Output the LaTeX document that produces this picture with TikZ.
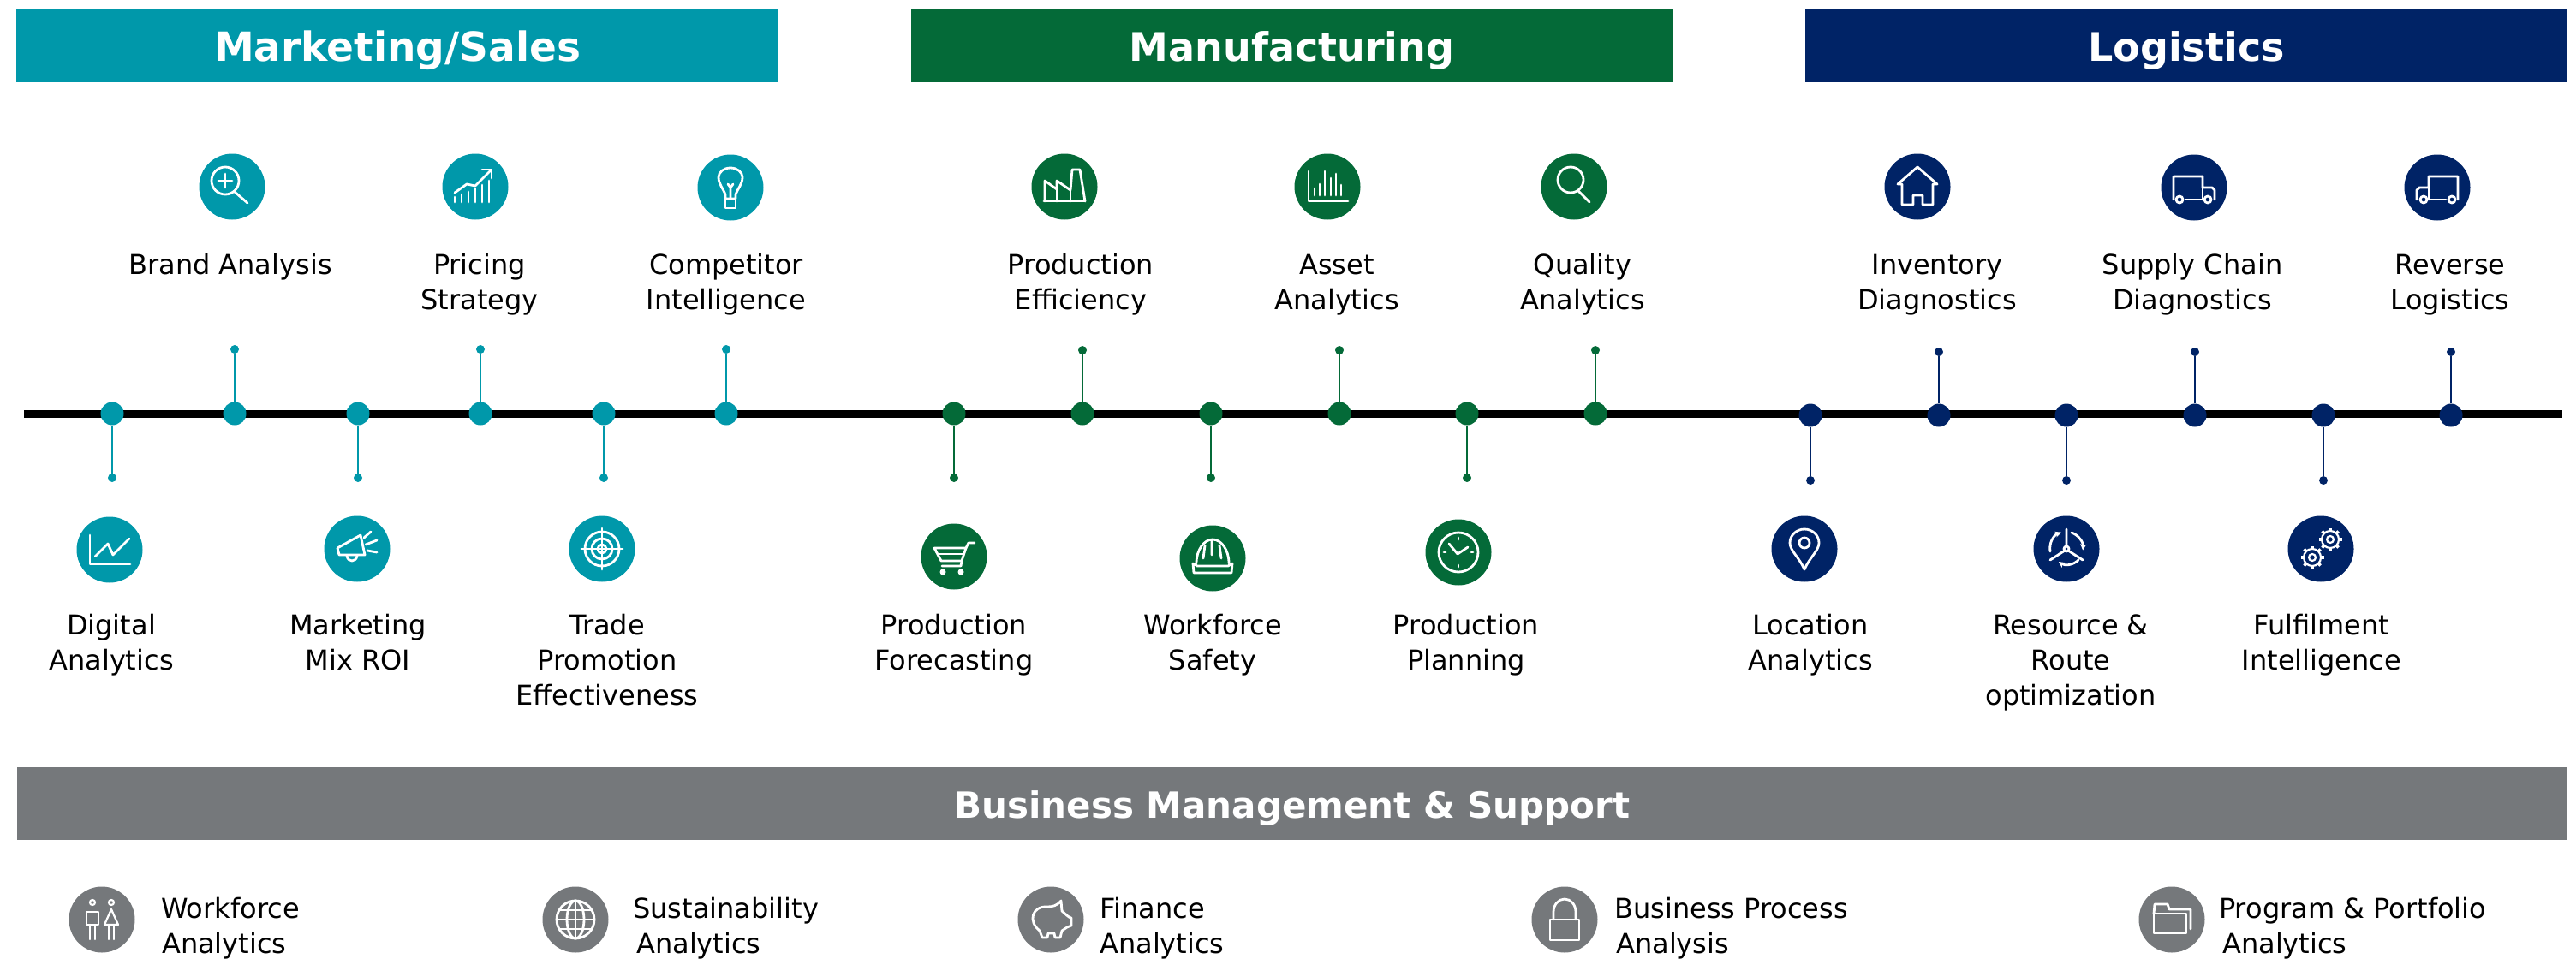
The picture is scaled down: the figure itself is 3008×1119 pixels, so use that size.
\documentclass[tikz,border=0pt]{standalone}
\usepackage{fontspec}
\setmainfont{DejaVu Sans}
\usetikzlibrary{arrows.meta,shapes.geometric,calc}
\definecolor{cteal}{HTML}{0098AA}
\definecolor{cgreen}{HTML}{046A38}
\definecolor{cnavy}{HTML}{002366}
\definecolor{cgrey}{HTML}{75787B}
\newcommand{\labelfont}{\fontsize{32}{41}\selectfont}
\newcommand{\headfont}{\fontsize{46}{50}\bfseries\selectfont}
\newcommand{\headtext}[2]{\raisebox{-#1}[0pt][0pt]{#2}}
\tikzset{
  x=1pt,y=-1pt,
  band/.style={fill=#1,draw=none,minimum height=85pt,inner sep=0,text=white,font=\headfont},
  hub/.style={circle,fill=#1,minimum size=27pt,inner sep=0},
  tip/.style={circle,fill=#1,minimum size=10pt,inner sep=0},
  stem/.style={draw=#1,line width=2.6pt},
  badge/.style={circle,fill=#1,minimum size=77pt,inner sep=0},
  glyph/.style={draw=white,line width=2.8pt,line cap=round,line join=round},
  lab/.style={font=\labelfont,align=center,anchor=base,inner sep=0,text=black},
  sidelab/.style={font=\labelfont,align=left,anchor=base west,inner sep=0,text=black},
}
\newcommand{\gear}[2]{%
  \draw[glyph,line width=2.2pt] (#1,#2) circle (10);
  \draw[glyph,line width=2.2pt] (#1,#2) circle (4);
  \foreach \a in {0,45,...,315}{\draw[glyph,line width=3.5pt,line cap=butt] ($(#1,#2)+(\a:10)$) -- ($(#1,#2)+(\a:13.5)$);}
}
\begin{document}
\begin{tikzpicture}
\useasboundingbox (0,0) rectangle (3008,1119);
% header bands
\node[band=cteal,minimum width=890pt] (hmkt) at (464,53.5) {\headtext{18pt}{\fontsize{47}{50}\bfseries\selectfont Marketing/Sales}};
\node[band=cgreen,minimum width=889pt] (hman) at (1508.5,53.5) {\headtext{18pt}{Manufacturing}};
\node[band=cnavy,minimum width=890pt] (hlog) at (2553,53.5) {\headtext{18pt}{Logistics}};
\node[band=cgrey,minimum width=2978pt] (hbus) at (1509,938.5) {\headtext{17pt}{\fontsize{42}{50}\bfseries\selectfont Business Management \& Support}};
% timeline
\coordinate (tlL) at (28,483);
\coordinate (tlR) at (2992,483);
\draw[line width=9pt,black] (tlL) -- (tlR);
% hubs, tips and stems
\foreach \n/\x/\yh/\yt/\c in {
 a1/131/483/558/cteal,a2/274/483/408/cteal,a3/418/483/558/cteal,a4/561/483/408/cteal,a5/705/483/558/cteal,a6/848/483/408/cteal,
 b1/1114/483/558/cgreen,b2/1264/483/409/cgreen,b3/1414/483/558/cgreen,b4/1564/483/409/cgreen,b5/1713/483/558/cgreen,b6/1863/483/409/cgreen,
 c1/2114/485/561/cnavy,c2/2264/485/411/cnavy,c3/2413/485/561/cnavy,c4/2563/485/411/cnavy,c5/2713/485/561/cnavy,c6/2862/485/411/cnavy}{
  \node[tip=\c] (tip\n) at (\x,\yt) {};
  \node[hub=\c] (hub\n) at (\x,\yh) {};
  \draw[stem=\c] (hub\n) -- (tip\n);
}
% badges
\foreach \n/\x/\y/\c in {
 brand/271/218/cteal,pricing/555/218/cteal,compet/853/219/cteal,digital/128/642/cteal,mix/417/641/cteal,trade/703/641/cteal,
 effic/1243/218/cgreen,asset/1550/218/cgreen,quality/1838/218/cgreen,forecast/1114/650/cgreen,safety/1416/652/cgreen,plan/1703/645/cgreen,
 invent/2239/218/cnavy,supply/2562/219/cnavy,reverse/2846/219/cnavy,locat/2107/641/cnavy,route/2413/641/cnavy,fulfil/2710/641/cnavy,
 wforce/119/1074/cgrey,sustain/672/1074/cgrey,finance/1227/1074/cgrey,process/1827/1074/cgrey,program/2536/1074/cgrey}{
  \node[badge=\c] (\n) at (\x,\y) {};
}
% labels top
\node[lab] (lbrand) at (269,320) {Brand Analysis};
\node[lab] (lpricing) at (560,361) {Pricing\\Strategy};
\node[lab] (lcompet) at (848,361) {Competitor\\Intelligence};
\node[lab] (leffic) at (1262,361) {Production\\Efficiency};
\node[lab] (lasset) at (1561,361) {Asset\\Analytics};
\node[lab] (lquality) at (1848,361) {Quality\\Analytics};
\node[lab] (linvent) at (2262,361) {Inventory\\Diagnostics};
\node[lab] (lsupply) at (2560,361) {Supply Chain\\Diagnostics};
\node[lab] (lreverse) at (2861,361) {Reverse\\Logistics};
% labels bottom
\node[lab] (ldigital) at (130,782) {Digital\\Analytics};
\node[lab] (lmix) at (418,782) {Marketing\\Mix ROI};
\node[lab] (ltrade) at (709,823) {Trade\\Promotion\\Effectiveness};
\node[lab] (lforecast) at (1114,782) {Production\\Forecasting};
\node[lab] (lsafety) at (1416,782) {Workforce\\Safety};
\node[lab] (lplan) at (1712,782) {Production\\Planning};
\node[lab] (llocat) at (2114,782) {Location\\Analytics};
\node[lab] (lroute) at (2418,823) {Resource \&\\Route\\optimization};
\node[lab] (lfulfil) at (2711,782) {Fulfilment\\Intelligence};
% labels support row
\node[sidelab] (lwforce) at (188,1113) {Workforce\\\hspace*{1pt}Analytics};
\node[sidelab] (lsustain) at (739,1113) {Sustainability\\\hspace*{4pt}Analytics};
\node[sidelab] (lfinance) at (1284,1113) {Finance\\Analytics};
\node[sidelab] (lprocess) at (1885,1113) {Business Process\\\hspace*{2pt}Analysis};
\node[sidelab] (lprogram) at (2591,1113) {Program \& Portfolio\\\hspace*{4pt}Analytics};
% ---------- glyphs
\begin{scope}[shift={(brand.center)}]
 \draw[glyph] (-8,-7) circle (16);
 \draw[glyph] (-8,-15) -- (-8,1) (-16,-7) -- (0,-7);
 \draw[glyph] (3,6) -- (18,19);
\end{scope}
\begin{scope}[shift={(pricing.center)}]
 \draw[glyph] (-24,18) -- (-24,12) (-16,18) -- (-16,9) (-8,18) -- (-8,6) (0,18) -- (0,2) (8,18) -- (8,-2) (16,18) -- (16,-7);
 \draw[glyph] (-24,7) -- (-10,-3) -- (0,-1) -- (19,-20);
 \draw[glyph] (8,-20) -- (19,-20) -- (19,-10);
\end{scope}
\begin{scope}[shift={(compet.center)}]
 \draw[glyph] (-6,13) -- (-6,8) .. controls (-8,2) and (-14,-4) .. (-14,-12) arc[start angle=180,end angle=360,x radius=14,y radius=11] .. controls (14,-4) and (8,2) .. (6,8) -- (6,13) -- cycle;
 \draw[glyph] (0,13) -- (0,0) -- (-3,-4) (0,0) -- (3,-4);
 \draw[glyph] (-6,13) -- (-6,24) -- (6,24) -- (6,13);
\end{scope}
\begin{scope}[shift={(digital.center)}]
 \draw[glyph] (-23,-17) -- (-23,17) -- (24,17);
 \draw[glyph] (-17,8) -- (-2,-7) -- (4,6) -- (23,-13);
\end{scope}
\begin{scope}[shift={(mix.center)}]
 \draw[glyph] (-23,-1) -- (4,-16) -- (9,7) -- (-21,7) -- cycle;
 \draw[glyph] (8,-13) -- (16,-20) (10,-5) -- (23,-10) (12,2) -- (23,4);
 \draw[glyph] (-12,8) .. controls (-11,16) and (-1,16) .. (0,8);
\end{scope}
\begin{scope}[shift={(trade.center)}]
 \draw[glyph] (0,0) circle (20) (0,0) circle (12) (0,0) circle (5);
 \draw[glyph] (-24,0) -- (24,0) (0,-24) -- (0,24);
\end{scope}
\begin{scope}[shift={(effic.center)}]
 \draw[glyph] (-24,17) -- (24,17);
 \draw[glyph] (-23,17) -- (-23,-7) -- (-9,3) -- (-9,-7) -- (7,4) -- (9,-20) -- (18,-20) -- (24,17);
 \draw[glyph] (-9,3) -- (-9,17) (7,4) -- (7,17);
\end{scope}
\begin{scope}[shift={(asset.center)}]
 \draw[glyph] (-22,-18) -- (-22,17) -- (24,17);
 \draw[glyph] (-15,10) -- (-15,2) (-9,10) -- (-9,-3) (-3,10) -- (-3,-18) (4,10) -- (4,-10) (10,10) -- (10,-15) (16,10) -- (16,-2);
\end{scope}
\begin{scope}[shift={(quality.center)}]
 \draw[glyph] (-4,-8) circle (15);
 \draw[glyph] (5,5) -- (18,18);
\end{scope}
\begin{scope}[shift={(forecast.center)}]
 \draw[glyph] (-23,-10) -- (14,-10) -- (9,5) -- (-15,5) -- cycle;
 \draw[glyph] (14,-10) -- (17,-16) -- (24,-16);
 \draw[glyph] (-18,-3) -- (10,-3);
 \draw[glyph] (9,5) -- (8,11) -- (-14,11);
 \fill[white] (-13,18) circle (3.5) (8,18) circle (3.5);
\end{scope}
\begin{scope}[shift={(safety.center)}]
 \draw[glyph] (-19,6) .. controls (-19,-10) and (-10,-22) .. (0,-22) .. controls (10,-22) and (19,-10) .. (19,6);
 \draw[glyph] (-23,6) -- (-18,9) -- (18,9) -- (23,6) -- (22,17) -- (-22,17) -- cycle;
 \draw[glyph] (-11,0) -- (-9,-15) (10,0) -- (8,-15) (-1,-4) -- (-1,-21);
\end{scope}
\begin{scope}[shift={(plan.center)}]
 \draw[glyph] (0,0) circle (23);
 \draw[glyph] (-11,-10) -- (-1,2) -- (11,-6);
 \draw[glyph] (0,-17) -- (0,-15) (0,17) -- (0,15) (-17,0) -- (-15,0) (17,0) -- (15,0);
\end{scope}
\begin{scope}[shift={(invent.center)}]
 \draw[glyph] (0,-23) -- (23,-3) -- (18,-3) -- (18,21) -- (6,21) -- (6,10) -- (-5,10) -- (-5,21) -- (-18,21) -- (-18,-3) -- (-23,-3) -- cycle;
\end{scope}
\begin{scope}[shift={(supply.center)}]
 \draw[glyph] (-24,14) -- (-24,-13) -- (10,-13) -- (10,0) -- (21,0) -- (24,3) -- (24,14);
 \draw[glyph] (-10,14) -- (9,14);
 \draw[glyph] (10,-13) -- (10,14);
 \draw[glyph] (-17,14) circle (4) (16,14) circle (4);
\end{scope}
\begin{scope}[shift={(reverse.center)}]
 \draw[glyph] (24,14) -- (24,-13) -- (-10,-13) -- (-10,0) -- (-21,0) -- (-24,3) -- (-24,14);
 \draw[glyph] (10,14) -- (-9,14);
 \draw[glyph] (-10,-13) -- (-10,14);
 \draw[glyph] (17,14) circle (4) (-16,14) circle (4);
\end{scope}
\begin{scope}[shift={(locat.center)}]
 \draw[glyph] (0,24) .. controls (-6,10) and (-17,2) .. (-17,-7) arc[start angle=180,end angle=360,x radius=17,y radius=16] .. controls (17,2) and (6,10) .. (0,24) -- cycle;
 \draw[glyph] (0,-7) circle (6);
\end{scope}
\begin{scope}[shift={(route.center)}]
 \draw[glyph] (0,0) circle (3);
 \draw[glyph] (0,-3) -- (0,-23) (-2,2) -- (-19,13) (2,2) -- (19,13);
 \draw[glyph,-{Stealth[length=7pt,width=7pt]}] (-19,3) arc[start angle=170,end angle=250,radius=20];
 \draw[glyph,-{Stealth[length=7pt,width=7pt]}] (6,-19) arc[start angle=-70,end angle=5,radius=20];
 \draw[glyph,-{Stealth[length=7pt,width=7pt]}] (14,13) arc[start angle=45,end angle=125,radius=18];
\end{scope}
\begin{scope}[shift={(fulfil.center)}]
 \gear{11}{-11}
 \gear{-10}{10}
\end{scope}
\begin{scope}[shift={(wforce.center)}]
 \draw[glyph,line width=2.2pt] (-11,-20) circle (3) (11,-20) circle (3);
 \draw[glyph,line width=2.2pt] (-18,-9) rectangle (-4,6);
 \draw[glyph,line width=2.2pt] (-14,6) -- (-14,23) (-8,6) -- (-8,23);
 \draw[glyph,line width=2.2pt] (11,-12) -- (19,6) -- (3,6) -- cycle;
 \draw[glyph,line width=2.2pt] (8,6) -- (8,23) (14,6) -- (14,23);
\end{scope}
\begin{scope}[shift={(sustain.center)}]
 \draw[glyph] (0,0) circle (22);
 \draw[glyph] (0,0) ellipse (10 and 22);
 \draw[glyph] (0,-22) -- (0,22) (-22,0) -- (22,0) (-18,-11) -- (18,-11) (-18,11) -- (18,11);
\end{scope}
\begin{scope}[shift={(finance.center)}]
 \draw[glyph] (-10,21) -- (-13,13) .. controls (-27,2) and (-22,-16) .. (-4,-15) .. controls (2,-15) and (7,-16) .. (12,-22) -- (13,-10) .. controls (18,-6) and (21,-2) .. (24,-2) -- (24,7) -- (19,9) -- (13,13) -- (11,21) -- (5,21) -- (4,16) -- (-3,16) -- (-4,21) -- cycle;
\end{scope}
\begin{scope}[shift={(process.center)}]
 \draw[glyph] (-13,0) -- (-13,-9) arc[start angle=180,end angle=360,x radius=13,y radius=15] -- (13,0);
 \draw[glyph] (-17,0) rectangle (17,24);
\end{scope}
\begin{scope}[shift={(program.center)}]
 \draw[glyph] (-21,-7) rectangle (17,16);
 \draw[glyph] (-21,-7) -- (-20,-18) -- (-5,-18) -- (-3,-12) -- (22,-12) -- (22,11);
\end{scope}
\end{tikzpicture}
\end{document}
